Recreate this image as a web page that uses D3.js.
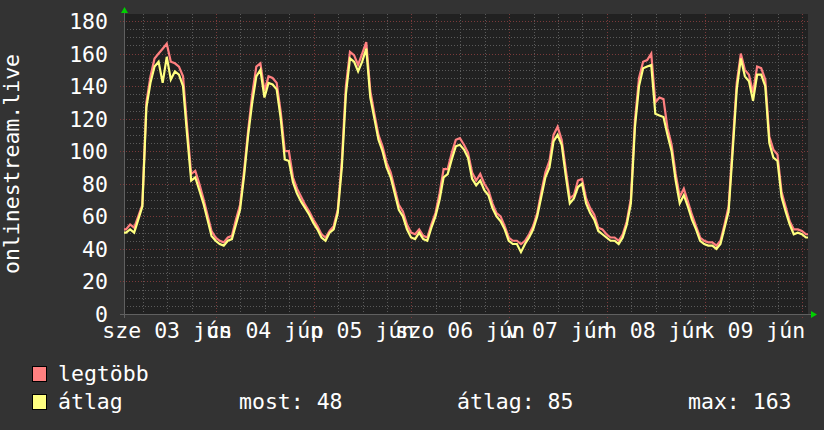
<!DOCTYPE html>
<html>
<head>
<meta charset="utf-8">
<script src="https://cdn.jsdelivr.net/npm/d3@7"></script>
<style>
    body { margin: 0; background: #333333; }
    text { font-family: "DejaVu Sans Mono", monospace; font-size: 21.5px; fill: #ffffff; }
</style>
</head>
<body>
<div id="main"></div>
<script>
// hourly samples starting 2020-06-03 01:25
const startTime = new Date(2020, 5, 3, 1, 25);
const avgValues = [
    50, 52, 50, 58, 66, 127, 142, 152, 155, 142, 158, 144,
    149, 147, 140, 110, 82, 84, 76, 68, 58, 48, 45, 43,
    42, 45, 46, 55, 64, 85, 110, 130, 146, 150, 133, 142,
    141, 138, 120, 95, 94, 81, 74, 69, 65, 61, 56, 52,
    47, 45, 50, 52, 62, 90, 135, 157, 155, 149, 155, 163,
    133, 120, 107, 100, 90, 84, 74, 64, 60, 52, 47, 46,
    50, 46, 45, 53, 60, 70, 84, 86, 95, 103, 104, 101,
    96, 83, 79, 82, 76, 73, 65, 60, 57, 52, 45, 43,
    43, 38, 43, 47, 52, 60, 72, 84, 90, 106, 110, 104,
    85, 68, 71, 78, 80, 68, 62, 58, 51, 49, 47, 45,
    45, 43, 47, 55, 68, 115, 140, 151, 152, 153, 123, 122,
    121, 110, 100, 82, 68, 73, 66, 58, 52, 45, 43, 42,
    42, 40, 43, 53, 63, 100, 138, 157, 146, 143, 131, 147,
    147, 140, 105, 96, 94, 72, 63, 55, 49, 50, 49, 47
];
const maxValues = [
    52, 55, 53, 60, 67, 130, 146, 157, 160, 163, 166, 155,
    154, 152, 146, 115, 86, 88, 80, 71, 61, 51, 47, 45,
    44, 47, 48, 58, 67, 88, 113, 135, 152, 154, 137, 146,
    145, 142, 124, 100, 100, 84, 77, 72, 67, 63, 58, 54,
    49, 47, 51, 54, 64, 94, 140, 161, 159, 153, 160, 167,
    137, 123, 110, 103, 93, 87, 77, 67, 63, 55, 50, 49,
    52, 48, 47, 55, 62, 74, 89, 89, 99, 107, 108, 104,
    99, 87, 82, 86, 80, 76, 68, 62, 60, 54, 47, 45,
    45, 43, 45, 49, 54, 62, 75, 87, 94, 110, 115, 107,
    89, 71, 73, 82, 83, 71, 65, 61, 53, 52, 49, 47,
    47, 45, 49, 57, 71, 119, 145, 155, 156, 160, 130, 133,
    132, 114, 104, 86, 72, 77, 69, 61, 54, 47, 45, 44,
    44, 42, 45, 55, 66, 104, 142, 160, 150, 147, 136, 152,
    151, 144, 109, 101, 98, 75, 66, 57, 52, 52, 51, 49
];
const dayLabels = ["sze 03 jún", "cs 04 jún", "p 05 jún", "szo 06 jún", "v 07 jún", "h 08 jún", "k 09 jún"];
const yTicks = [0, 20, 40, 60, 80, 100, 120, 140, 160, 180];
const legendNames = ["legtöbb", "átlag"];
const legendStats = ["most: 48", "átlag: 85", "max: 163"];

onload = () => {
    let svg = d3.select("#main").append("svg");
    svg.attr("width", 824).attr("height", 430);

    let hour = 3600 * 1000;
    let endTime = new Date(startTime.getTime() + avgValues.length * hour);

    let x = d3.scaleTime().domain([startTime, endTime]).range([124, 808]);
    let y = d3.scaleLinear().domain([0, 184.3]).range([314, 14]);

    svg.append("rect").attr("x", 0).attr("y", 0).attr("width", 824).attr("height", 430).attr("fill", "#333333");
    svg.append("rect")
        .attr("x", x.range()[0]).attr("y", y.range()[1])
        .attr("width", x.range()[1] - x.range()[0])
        .attr("height", y.range()[0] - y.range()[1])
        .attr("fill", "#212121");

    // grid
    let grid = svg.append("g").attr("shape-rendering", "crispEdges");
    let minorY = d3.range(5, 185, 5).filter((v) => v % 20 != 0);
    grid.selectAll(".hminor").data(minorY).enter().append("line")
        .attr("x1", 124).attr("x2", 808)
        .attr("y1", (d) => Math.round(y(d)) + 0.5).attr("y2", (d) => Math.round(y(d)) + 0.5)
        .attr("stroke", "#5a5a5a").attr("stroke-dasharray", "1,2");
    let sixHours = d3.timeHour.every(6).range(startTime, endTime).filter((d) => d.getHours() != 0);
    grid.selectAll(".vminor").data(sixHours).enter().append("line")
        .attr("y1", 14).attr("y2", 316)
        .attr("x1", (d) => Math.round(x(d)) + 0.5).attr("x2", (d) => Math.round(x(d)) + 0.5)
        .attr("stroke", "#5a5a5a").attr("stroke-dasharray", "1,2");
    grid.selectAll(".hmajor").data(yTicks.filter((d) => d > 0)).enter().append("line")
        .attr("x1", 120).attr("x2", 808)
        .attr("y1", (d) => Math.round(y(d)) + 0.5).attr("y2", (d) => Math.round(y(d)) + 0.5)
        .attr("stroke", "#7a3a3a").attr("stroke-dasharray", "1,2");
    let midnights = d3.timeDay.range(startTime, new Date(endTime.getTime() + 1));
    grid.selectAll(".vmajor").data(midnights).enter().append("line")
        .attr("y1", 14).attr("y2", 318)
        .attr("x1", (d) => Math.round(x(d)) + 0.5).attr("x2", (d) => Math.round(x(d)) + 0.5)
        .attr("stroke", "#7a3a3a").attr("stroke-dasharray", "1,2");

    // axes lines
    svg.append("line").attr("x1", 120).attr("x2", 812).attr("y1", 314.5).attr("y2", 314.5)
        .attr("stroke", "#606060");
    svg.append("line").attr("x1", 124.5).attr("x2", 124.5).attr("y1", 318).attr("y2", 10)
        .attr("stroke", "#606060");
    svg.append("path").attr("d", "M121,13 L124.5,7 L128,13 Z").attr("fill", "#00d000");
    svg.append("path").attr("d", "M811,311 L817,314.5 L811,318 Z").attr("fill", "#00d000");

    // labels
    svg.append("g").selectAll("text").data(yTicks).enter().append("text")
        .attr("x", 108).attr("y", (d) => y(d) + 8)
        .attr("text-anchor", "end")
        .text((d) => d);
    let noons = midnights.slice(0, dayLabels.length).map((d) => new Date(d.getTime() - 12 * hour));
    svg.append("g").selectAll("text").data(dayLabels).enter().append("text")
        .attr("x", (d, i) => x(noons[i]))
        .attr("y", 338)
        .attr("text-anchor", "middle")
        .text((d) => d);
    svg.append("text")
        .attr("transform", "translate(19, 164) rotate(-90)")
        .attr("text-anchor", "middle")
        .text("onlinestream.live");

    // series, one point in the middle of each hour
    let times = avgValues.map((d, i) => new Date(startTime.getTime() + (i + 0.5) * hour));
    function seriesLine(values) {
        let pts = values.map((v, i) => [times[i], v]);
        pts.unshift([startTime, values[0]]);
        pts.push([endTime, values[values.length - 1]]);
        return d3.line().x((d) => x(d[0])).y((d) => y(d[1]))(pts);
    }
    svg.append("path").attr("d", seriesLine(maxValues))
        .attr("fill", "none").attr("stroke", "#ff8080").attr("stroke-width", 2.2)
        .attr("stroke-linejoin", "miter");
    svg.append("path").attr("d", seriesLine(avgValues))
        .attr("fill", "none").attr("stroke", "#ffff80").attr("stroke-width", 2.2)
        .attr("stroke-linejoin", "miter");

    // legend
    let legendColors = ["#ff8080", "#ffff80"];
    let legend = svg.append("g");
    legend.selectAll("rect").data(legendNames).enter().append("rect")
        .attr("x", 32.5).attr("y", (d, i) => 366.5 + i * 28)
        .attr("width", 14).attr("height", 15)
        .attr("fill", (d, i) => legendColors[i])
        .attr("stroke", "#000000");
    legend.selectAll(".name").data(legendNames).enter().append("text")
        .attr("x", 58).attr("y", (d, i) => 381 + i * 28)
        .text((d) => d);
    let statX = [239, 457, 688];
    legend.selectAll(".stat").data(legendStats).enter().append("text")
        .attr("x", (d, i) => statX[i]).attr("y", 409)
        .text((d) => d);
};
</script>
</body>
</html>
